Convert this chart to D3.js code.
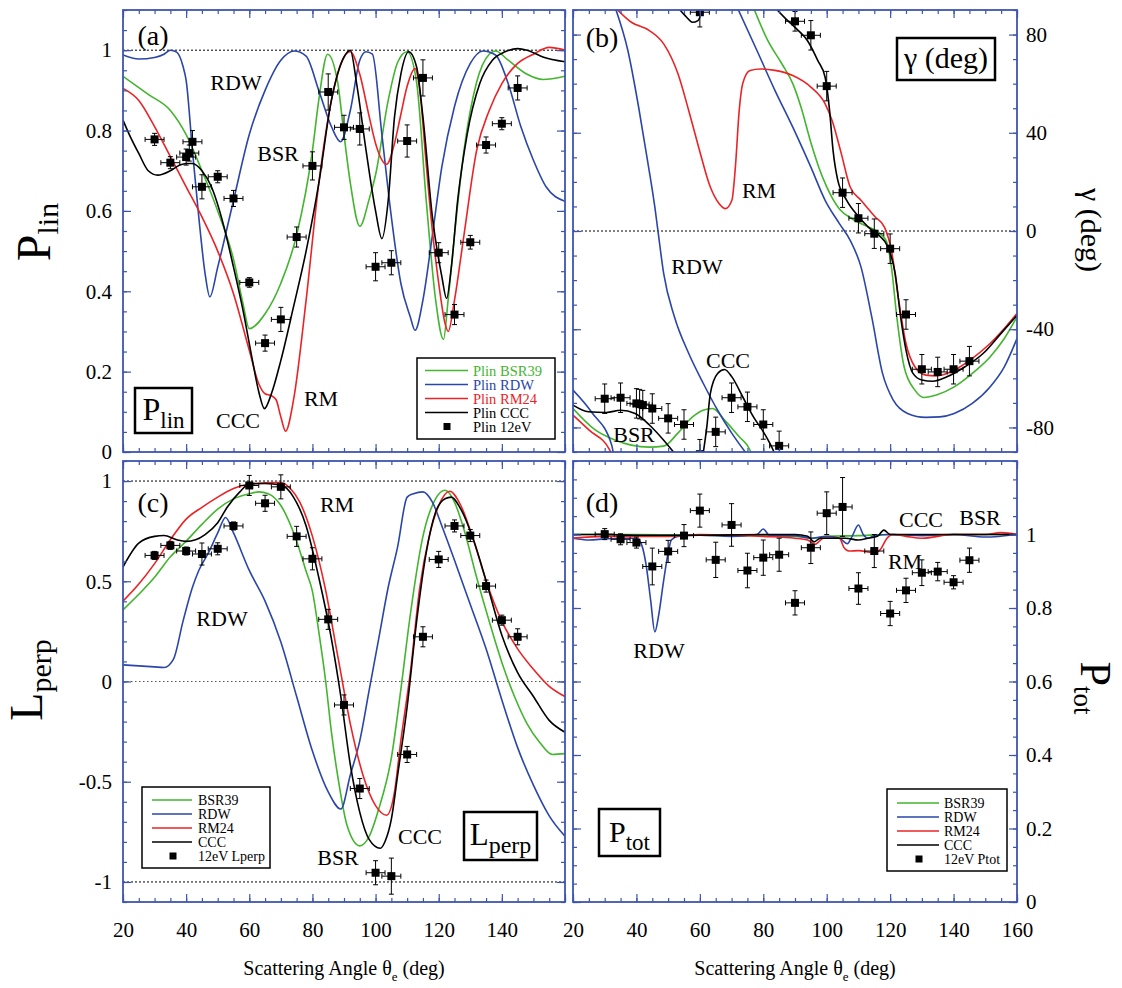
<!DOCTYPE html>
<html>
<head>
<meta charset="utf-8">
<script src="https://cdn.jsdelivr.net/npm/d3@7"></script>
<style>body{margin:0;background:#fff}</style>
</head>
<body>
<div id="chart"></div>
<script>
// ---- tick labels / series names
var angleTicks = [20, 40, 60, 80, 100, 120, 140, 160];
var plinTicks = [0, 0.2, 0.4, 0.6, 0.8, 1];
var gammaTicks = [-80, -40, 0, 40, 80];
var lperpTicks = [-1, -0.5, 0, 0.5, 1];
var ptotTicks = [0, 0.2, 0.4, 0.6, 0.8, 1];
var models = ["BSR39", "RDW", "RM24", "CCC"];
var modelColors = ["#43b52e", "#2a46a8", "#ec2326", "#000000"];

// ---- 12 eV measurements
var plinAngle = [30,35,40,41,42,45,50,55,60,65,70,75,80,85,90,95,100,105,110,115,120,125,130,135,140,145];
var plinExp = [0.778,0.720,0.734,0.744,0.772,0.660,0.685,0.631,0.422,0.271,0.330,0.535,0.712,0.896,0.808,0.804,0.461,0.471,0.774,0.931,0.496,0.342,0.522,0.764,0.817,0.906];
var plinErr = [0.015,0.015,0.02,0.02,0.028,0.03,0.015,0.02,0.012,0.02,0.03,0.025,0.035,0.045,0.03,0.04,0.035,0.03,0.04,0.045,0.025,0.025,0.017,0.02,0.015,0.03];

var gammaAngle = [30,35,40,41,42,45,50,55,60,65,70,75,80,85,90,95,100,105,110,115,120,125,130,135,140,145];
var gammaExp = [-68.3,-67.9,-70.2,-70.5,-70.9,-72.3,-76.3,-78.8,89.1,-81.8,-67.9,-71.6,-78.8,-87.5,85.4,79.7,59.0,15.6,5.2,-1.1,-7.2,-34.0,-56.3,-57.4,-56.3,-53.0];
var gammaErr = [6,6,6,6,6,6,6,6,6,6,6,6,6,6,4,6,6,6,6,6,6,6,6,6,6,6];
var gammaWrapAngle = [60];
var gammaWrapExp = [-90.9];
var gammaWrapErr = [6];

var lperpAngle = [30,35,40,45,50,55,60,65,70,75,80,85,90,95,100,105,110,115,120,125,130,135,140,145];
var lperpExp = [0.629,0.679,0.651,0.636,0.662,0.776,0.978,0.889,0.971,0.724,0.612,0.31,-0.117,-0.534,-0.954,-0.971,-0.364,0.223,0.609,0.776,0.728,0.476,0.306,0.223];
var lperpErr = [0.02,0.02,0.02,0.055,0.03,0.02,0.05,0.04,0.06,0.05,0.055,0.05,0.05,0.05,0.06,0.09,0.04,0.05,0.04,0.03,0.03,0.03,0.025,0.04];

var ptotAngle = [30,35,40,45,50,55,60,65,70,75,80,85,90,95,100,105,110,115,120,125,130,135,140,145];
var ptotExp = [1.001,0.987,0.978,0.913,0.954,0.997,1.065,0.931,1.026,0.902,0.937,0.945,0.814,0.964,1.058,1.075,0.853,0.955,0.785,0.848,0.896,0.899,0.870,0.930];
var ptotErr = [0.015,0.015,0.015,0.05,0.03,0.03,0.045,0.048,0.058,0.047,0.048,0.045,0.033,0.043,0.058,0.08,0.043,0.045,0.033,0.033,0.035,0.025,0.018,0.033];
var angleErr = 3;

// ---- theory curves [angle, value]
var plinBSR = [[20,0.935],[28,0.89],[35,0.85],[40,0.79],[45,0.70],[50,0.60],[55,0.48],[58,0.37],[60,0.307],[65,0.344],[70,0.42],[75,0.54],[80,0.75],[82,0.875],[84.8,0.99],[88,0.92],[90,0.79],[92,0.67],[95,0.562],[98,0.63],[100,0.69],[104,0.875],[107,0.97],[110,0.996],[113,0.92],[116,0.63],[119,0.38],[121.5,0.28],[123,0.38],[125,0.54],[128,0.75],[132,0.92],[136,0.99],[138,0.998],[142,0.975],[148,0.94],[153,0.927],[160,0.935]];
var plinRDW = [[20,0.988],[25,0.978],[30,0.982],[33,0.99],[35,1.0],[37,0.995],[39,0.96],[40,0.925],[42,0.75],[44,0.585],[46,0.444],[47.5,0.386],[50,0.46],[55,0.626],[60,0.79],[65,0.9],[70,0.975],[74.3,0.998],[78,0.985],[82,0.9],[86,0.81],[88.9,0.772],[92,0.85],[95,0.975],[97,0.996],[99,0.99],[102,0.79],[105,0.585],[108,0.42],[111,0.336],[112.5,0.303],[115,0.378],[118,0.54],[121,0.71],[125,0.86],[130,0.967],[134,0.998],[138,0.988],[142,0.917],[146,0.81],[150,0.726],[154,0.66],[160,0.624]];
var plinRM = [[20,0.905],[25,0.875],[30,0.81],[35,0.735],[40,0.66],[45,0.585],[50,0.50],[55,0.394],[60,0.253],[63,0.17],[65,0.145],[67,0.14],[68.5,0.13],[70,0.087],[71.5,0.052],[74,0.129],[78,0.378],[82,0.668],[86,0.875],[90,0.983],[92,0.996],[95,0.94],[98,0.834],[100,0.768],[103.5,0.716],[106,0.768],[108,0.84],[110,0.91],[112.5,0.954],[114,0.9],[116,0.72],[118,0.55],[120,0.42],[122,0.32],[123,0.30],[125,0.378],[128,0.54],[132,0.75],[136,0.85],[140,0.917],[145,0.967],[150,0.99],[155,1.007],[160,1.0]];
var plinCCC = [[20,0.826],[22,0.79],[25,0.743],[28,0.70],[31,0.689],[35,0.70],[38,0.714],[40,0.718],[42,0.718],[45,0.70],[48,0.66],[52,0.56],[55,0.46],[58,0.353],[61,0.228],[63,0.15],[64.8,0.108],[67,0.145],[70,0.228],[74,0.361],[78,0.50],[82,0.668],[86,0.875],[90,0.983],[92,1.0],[94,0.917],[97,0.75],[100,0.6],[102,0.531],[104,0.626],[106,0.834],[108,0.94],[110.5,0.996],[113,0.958],[115,0.834],[118,0.585],[121,0.436],[122.5,0.382],[124,0.46],[126,0.626],[129,0.79],[133,0.917],[137,0.975],[141,0.996],[145,1.004],[148,1.0],[153,0.983],[160,0.971]];

var gammaBSR = [[20,-72.3],[27,-81],[33,-85],[38.4,-87.2],[44,-88],[48.6,-87.6],[53,-82.4],[57.7,-75.7],[61,-73],[64,-72.3],[67.8,-77],[72.4,-83.8],[75.8,-89.2],[76.3,-91],null,[76.9,91],[81.4,77.6],[85.9,68],[89.3,60],[92,50],[95,36],[97.5,26],[100,18],[104,9],[108,5],[112,2.3],[115.3,0.3],[118.7,-3.8],[120.4,-14.6],[122.1,-35],[124.4,-55.3],[127.8,-64.8],[130.6,-67.8],[134.6,-66.8],[140.2,-63.5],[145.9,-58],[151.5,-51.3],[156,-43.8],[160,-35]];
var gammaRDW = [[20,-64.8],[26,-74],[32.2,-87.2],[32.8,-91],null,[33.3,91],[37.3,73.5],[40.7,50.4],[43.5,28.7],[45.8,9.8],[46.9,-1.1],[48.6,-17.4],[52,-35],[56.5,-49.9],[61.1,-62.1],[65.6,-73],[70.1,-82.4],[74.6,-90.5],null,[71.8,91],[78,73.5],[83.7,57.2],[89.3,42.3],[95,26],[99.5,12.5],[104,3],[107.4,-3.8],[110.8,-14.6],[114.2,-35],[117.6,-58],[121,-68.9],[125.5,-74.3],[131.2,-75.9],[135.7,-75.7],[140.2,-74.3],[145.9,-70.2],[151.5,-63.5],[156,-55.3],[160,-43.8]];
var gammaRM = [[20,-75],[25,-81],[31.6,-89.2],[32,-91],null,[33.3,91],[38.4,85],[44.1,81.6],[48.6,76.2],[53.1,64],[56.5,49],[59.9,32.8],[63.3,17.9],[66.1,11.1],[68.1,9.1],[70.1,12.5],[71.2,26],[72.4,49],[73.5,60],[75.8,65.4],[79.2,66],[83.7,65.4],[89.3,63.3],[95,58.6],[99.5,51.8],[101.7,45],[104.6,31.5],[107.4,17.9],[110.8,12.5],[115.3,5.7],[118.2,1.6],[120.4,-7.9],[122.7,-28.2],[125,-45.8],[127.8,-55.3],[131.2,-58.7],[134.6,-59],[140.2,-56.7],[145.9,-51.9],[151.5,-45.8],[156,-39.7],[160,-33.6]];
var gammaCCC = [[20,-70.9],[24.9,-73.6],[30.5,-73.9],[35,-73],[39.6,-74.3],[44.1,-79],[48.6,-85.2],[52,-90.5],null,[53.1,91],[55.5,87.5],[57.7,85],[59.4,85.7],[61,91],null,[61,-91],[62.2,-79.7],[63.3,-66.2],[65.6,-58],[67.8,-56.4],[70.1,-59.4],[73.5,-67.5],[76.9,-75.7],[80.3,-82.4],[83.1,-89.2],[83.7,-91],null,[83.7,91],[87.1,86.4],[90.5,82.3],[93.9,77.6],[97.2,69.4],[99.5,62.6],[100.9,49.1],[102,32.8],[103.5,20.6],[106.3,12.5],[109.7,6.4],[113.1,1.6],[116.5,-1.8],[119.3,-6.5],[121.6,-17.4],[123.3,-35],[125,-48.5],[127.2,-58],[130,-60.7],[133.4,-61.2],[137.9,-59.4],[143.6,-55.3],[149.3,-49.9],[154.9,-41.8],[160,-34.3]];

var lperpBSR = [[20,0.357],[25,0.435],[30,0.52],[35,0.622],[40,0.70],[45,0.784],[50,0.86],[55,0.911],[60,0.937],[63,0.946],[66,0.937],[70,0.878],[75,0.70],[78,0.55],[80,0.45],[82,0.25],[84.2,0],[86,-0.25],[88.3,-0.5],[91,-0.72],[95,-0.82],[98,-0.772],[101,-0.636],[105,-0.381],[108,-0.041],[111,0.333],[115,0.724],[119,0.911],[122,0.954],[125,0.895],[128,0.758],[132,0.52],[136,0.3],[140,0.095],[144,-0.075],[148,-0.211],[152,-0.304],[156,-0.364],[160,-0.36]];
var lperpRDW = [[20,0.083],[25,0.078],[30,0.073],[33,0.07],[36,0.112],[39,0.3],[42,0.47],[44,0.554],[47,0.64],[50,0.741],[52.5,0.818],[55,0.741],[60,0.554],[65,0.401],[70,0.197],[75,-0.075],[80,-0.347],[85,-0.551],[89,-0.636],[92,-0.466],[95,-0.296],[98,-0.041],[101,0.214],[104,0.47],[107,0.673],[110,0.92],[112,0.937],[115,0.946],[118,0.895],[121,0.776],[125,0.605],[130,0.384],[135,0.163],[140,-0.092],[145,-0.33],[150,-0.517],[155,-0.67],[160,-0.772]];
var lperpRM = [[20,0.401],[25,0.486],[30,0.588],[35,0.707],[40,0.81],[45,0.869],[50,0.92],[55,0.963],[60,0.985],[65,0.991],[70,0.993],[73,0.963],[76,0.895],[80,0.724],[84,0.469],[88,0.129],[92,-0.211],[96,-0.466],[100,-0.619],[103.5,-0.667],[106,-0.551],[108,-0.296],[111,0.044],[114,0.469],[117,0.724],[120,0.878],[123.5,0.949],[127,0.878],[131,0.707],[135,0.503],[140,0.3],[145,0.163],[150,0.061],[155,-0.024],[160,-0.075]];
var lperpCCC = [[20,0.571],[25,0.69],[30,0.724],[33,0.728],[37,0.707],[40,0.699],[43,0.707],[46,0.733],[50,0.792],[53,0.869],[57,0.946],[60,0.985],[65,0.988],[70,0.98],[74,0.92],[78,0.776],[82,0.52],[86,0.214],[89,-0.075],[92,-0.415],[95,-0.653],[98,-0.789],[101.5,-0.832],[103,-0.798],[105,-0.687],[107,-0.466],[110,-0.126],[113,0.3],[116,0.639],[119,0.844],[122,0.912],[124,0.92],[127,0.86],[131,0.707],[135,0.503],[140,0.231],[145,0.044],[150,-0.075],[155,-0.194],[160,-0.253]];

var ptotBSR = [[20,1.0],[40,1.0],[60,0.998],[80,0.997],[90,0.995],[96,0.99],[100,0.995],[110,0.997],[120,1.0],[130,0.998],[140,1.0],[160,1.0]];
var ptotRDW = [[20,0.99],[25,0.985],[30,0.988],[35,0.99],[40,0.99],[41.5,0.975],[43,0.92],[44.5,0.82],[45.8,0.735],[47,0.78],[48.5,0.87],[50,0.95],[51,0.985],[53,0.995],[60,0.998],[70,0.995],[78,1.0],[80,1.015],[82,0.997],[90,0.997],[95,0.99],[100,0.995],[104,0.99],[106.5,0.975],[108,0.995],[110,1.026],[111.5,1.0],[113,0.99],[115,0.997],[120,1.0],[130,0.997],[140,1.0],[150,0.993],[160,1.0]];
var ptotRM = [[20,0.99],[30,0.995],[50,0.995],[60,1.0],[80,0.995],[90,0.99],[94,0.985],[96.3,0.973],[99,0.99],[104,0.99],[105.4,0.965],[107,0.955],[110,0.956],[115,0.95],[117,0.96],[119,0.99],[121,1.0],[125,0.995],[130,0.99],[140,1.0],[150,1.0],[155,1.005],[160,1.0]];
var ptotCCC = [[20,1.0],[30,1.0],[40,0.998],[60,0.998],[80,1.0],[90,1.0],[94,0.995],[96,0.98],[98,0.99],[100,0.99],[103,0.99],[106,0.99],[110,0.985],[113,0.99],[116,0.995],[118,1.012],[120,1.0],[130,1.0],[140,1.0],[160,1.0]];

// ---- drawing
var SERIF = "'Liberation Serif', 'Times New Roman', serif";
var FRAME = "#3e55b0";

var svg = d3.select("#chart").append("svg")
    .attr("width", 1122)
    .attr("height", 988)
    .style("background", "#fff");

function makePanel(id, box, ydom, yMajor, yMinor, side, xLabels) {
    var x = d3.scaleLinear().domain([20, 160]).range([box[0], box[1]]);
    var y = d3.scaleLinear().domain(ydom).range([box[3], box[2]]);
    var g = svg.append("g");
    svg.append("clipPath").attr("id", "clip" + id)
        .append("rect")
        .attr("x", box[0]).attr("y", box[2])
        .attr("width", box[1] - box[0]).attr("height", box[3] - box[2]);
    var inner = g.append("g").attr("clip-path", "url(#clip" + id + ")");

    var xMinor = d3.range(20, 161, 5);
    function styleAxis(s) {
        s.select(".domain").remove();
        s.selectAll("line").attr("stroke", FRAME).attr("stroke-width", 1.2);
        s.selectAll("text").attr("font-family", SERIF).attr("font-size", 21).attr("fill", "#000");
    }
    var lab = function (d) { return String(d); };
    var none = function () { return ""; };

    g.append("g").attr("transform", "translate(" + box[0] + ",0)")
        .call(d3.axisLeft(y).tickValues(yMajor).tickSize(-8).tickPadding(11).tickFormat(side == "left" ? lab : none)).call(styleAxis);
    g.append("g").attr("transform", "translate(" + box[0] + ",0)")
        .call(d3.axisLeft(y).tickValues(yMinor).tickSize(-4).tickFormat(none)).call(styleAxis);
    g.append("g").attr("transform", "translate(" + box[1] + ",0)")
        .call(d3.axisRight(y).tickValues(yMajor).tickSize(-8).tickPadding(9).tickFormat(side == "right" ? lab : none)).call(styleAxis);
    g.append("g").attr("transform", "translate(" + box[1] + ",0)")
        .call(d3.axisRight(y).tickValues(yMinor).tickSize(-4).tickFormat(none)).call(styleAxis);
    g.append("g").attr("transform", "translate(0," + box[2] + ")")
        .call(d3.axisTop(x).tickValues(angleTicks).tickSize(-8).tickFormat(none)).call(styleAxis);
    g.append("g").attr("transform", "translate(0," + box[2] + ")")
        .call(d3.axisTop(x).tickValues(xMinor).tickSize(-4).tickFormat(none)).call(styleAxis);
    g.append("g").attr("transform", "translate(0," + box[3] + ")")
        .call(d3.axisBottom(x).tickValues(angleTicks).tickSize(-8).tickPadding(20)
            .tickFormat(function (d) { return xLabels.indexOf(d) >= 0 ? String(d) : ""; })).call(styleAxis);
    g.append("g").attr("transform", "translate(0," + box[3] + ")")
        .call(d3.axisBottom(x).tickValues(xMinor).tickSize(-4).tickFormat(none)).call(styleAxis);

    g.append("rect")
        .attr("x", box[0]).attr("y", box[2])
        .attr("width", box[1] - box[0]).attr("height", box[3] - box[2])
        .attr("fill", "none").attr("stroke", FRAME).attr("stroke-width", 1.8);

    return { x: x, y: y, g: g, inner: inner, box: box };
}

function refLine(p, v, dash, col, w) {
    p.inner.append("line")
        .attr("x1", p.box[0]).attr("x2", p.box[1])
        .attr("y1", p.y(v)).attr("y2", p.y(v))
        .attr("stroke", col).attr("stroke-width", w)
        .attr("stroke-dasharray", dash);
}

function curves(p, series) {
    var line = d3.line()
        .defined(function (d) { return d != null; })
        .x(function (d) { return p.x(d[0]); })
        .y(function (d) { return p.y(d[1]); })
        .curve(d3.curveMonotoneX);
    series.forEach(function (s, i) {
        p.inner.append("path")
            .attr("d", line(s))
            .attr("fill", "none")
            .attr("stroke", modelColors[i])
            .attr("stroke-width", 1.6);
    });
}

function points(p, ang, val, err) {
    var pts = p.inner.append("g");
    ang.forEach(function (a, i) {
        var cx = p.x(a), cy = p.y(val[i]);
        var yt = p.y(val[i] + err[i]), yb = p.y(val[i] - err[i]);
        var xl = p.x(a - angleErr), xr = p.x(a + angleErr);
        var e = pts.append("g").attr("stroke", "#000").attr("stroke-width", 1);
        e.append("line").attr("x1", cx).attr("x2", cx).attr("y1", yt).attr("y2", yb);
        e.append("line").attr("x1", cx - 2.5).attr("x2", cx + 2.5).attr("y1", yt).attr("y2", yt);
        e.append("line").attr("x1", cx - 2.5).attr("x2", cx + 2.5).attr("y1", yb).attr("y2", yb);
        e.append("line").attr("x1", xl).attr("x2", xr).attr("y1", cy).attr("y2", cy);
        e.append("line").attr("x1", xl).attr("x2", xl).attr("y1", cy - 2.5).attr("y2", cy + 2.5);
        e.append("line").attr("x1", xr).attr("x2", xr).attr("y1", cy - 2.5).attr("y2", cy + 2.5);
        pts.append("rect").attr("x", cx - 4).attr("y", cy - 4).attr("width", 8).attr("height", 8).attr("fill", "#000");
    });
}

function note(txt, x, y, size) {
    svg.append("text").attr("x", x).attr("y", y).attr("dy", "0.35em")
        .attr("text-anchor", "middle")
        .attr("font-family", SERIF).attr("font-size", size || 22)
        .text(txt);
}

function boxLabel(x0, y0, x1, y1, main, sub, ms, ss, sdy) {
    svg.append("rect").attr("x", x0).attr("y", y0).attr("width", x1 - x0).attr("height", y1 - y0)
        .attr("fill", "#fff").attr("stroke", "#000").attr("stroke-width", 2.5);
    var t = svg.append("text").attr("x", (x0 + x1) / 2).attr("y", (y0 + y1) / 2 + ms * 0.3)
        .attr("text-anchor", "middle").attr("font-family", SERIF);
    t.append("tspan").attr("font-size", ms).text(main);
    if (sub) t.append("tspan").attr("font-size", ss).attr("dy", sdy).text(sub);
}

function legend(x0, y0, x1, y1, rows, lx1, lx2, tx, mx, labels, colored, fs) {
    svg.append("rect").attr("x", x0).attr("y", y0).attr("width", x1 - x0).attr("height", y1 - y0)
        .attr("fill", "#fff").attr("stroke", "#000").attr("stroke-width", 1.5);
    labels.forEach(function (l, i) {
        var col = i < 4 ? modelColors[i] : "#000";
        if (i < 4) {
            svg.append("line").attr("x1", lx1).attr("x2", lx2).attr("y1", rows[i]).attr("y2", rows[i])
                .attr("stroke", col).attr("stroke-width", 1.5);
        } else {
            svg.append("rect").attr("x", mx - 3.5).attr("y", rows[i] - 3.5).attr("width", 7).attr("height", 7).attr("fill", "#000");
        }
        svg.append("text").attr("x", tx).attr("y", rows[i]).attr("dy", "0.35em")
            .attr("font-family", SERIF).attr("font-size", fs)
            .attr("fill", colored ? col : "#000").text(l);
    });
}

function rotLabel(x, y, angle, main, sub, ms, ss, sdy) {
    var t = svg.append("text").attr("transform", "translate(" + x + "," + y + ") rotate(" + angle + ")")
        .attr("text-anchor", "middle").attr("font-family", SERIF);
    t.append("tspan").attr("font-size", ms).text(main);
    if (sub) t.append("tspan").attr("font-size", ss).attr("dy", sdy).text(sub);
}

function xTitle(cx) {
    var t = svg.append("text").attr("x", cx).attr("y", 975)
        .attr("text-anchor", "middle").attr("font-family", SERIF).attr("font-size", 20);
    t.append("tspan").text("Scattering Angle \u03b8");
    t.append("tspan").attr("font-size", 13).attr("dy", 6).text("e");
    t.append("tspan").attr("dy", -6).text(" (deg)");
}

// panel (a)
var pa = makePanel("a", [123, 565, 10, 452], [0, 1.1], plinTicks, d3.range(0, 1.101, 0.05), "left", []);
refLine(pa, 1, "2,2", "#000", 1);
curves(pa, [plinBSR, plinRDW, plinRM, plinCCC]);
points(pa, plinAngle, plinExp, plinErr);

// panel (b)
var pb = makePanel("b", [573, 1017, 10, 452], [-90, 90], gammaTicks, d3.range(-90, 91, 10), "right", []);
refLine(pb, 0, "2,2", "#000", 1);
curves(pb, [gammaBSR, gammaRDW, gammaRM, gammaCCC]);
points(pb, gammaAngle, gammaExp, gammaErr);
points(pb, gammaWrapAngle, gammaWrapExp, gammaWrapErr);

// panel (c)
var pc = makePanel("c", [123, 565, 461, 902], [-1.1, 1.1], lperpTicks, d3.range(-1.1, 1.101, 0.1), "left", [20, 40, 60, 80, 100, 120, 140]);
refLine(pc, 1, "2,2", "#000", 1);
refLine(pc, -1, "2,2", "#000", 1);
refLine(pc, 0, "1.5,2.5", "#555", 1);
curves(pc, [lperpBSR, lperpRDW, lperpRM, lperpCCC]);
points(pc, lperpAngle, lperpExp, lperpErr);

// panel (d)
var pd = makePanel("d", [573, 1017, 461, 902], [0, 1.2], ptotTicks, d3.range(0, 1.201, 0.05), "right", angleTicks);
curves(pd, [ptotBSR, ptotRDW, ptotRM, ptotCCC]);
points(pd, ptotAngle, ptotExp, ptotErr);

// annotations
note("(a)", 153, 35, 28);
note("RDW", 236, 82);
note("BSR", 278, 153);
note("RM", 321, 398);
note("CCC", 238, 420);
note("(b)", 602, 37, 28);
note("RM", 759, 190);
note("RDW", 697, 266);
note("CCC", 728, 360);
note("BSR", 634, 434);
note("(c)", 153, 502, 28);
note("RM", 337, 504);
note("RDW", 222, 618);
note("BSR", 338, 857);
note("CCC", 420, 836);
note("(d)", 602, 502, 28);
note("CCC", 921, 519);
note("BSR", 980, 517);
note("RM", 905, 561);
note("RDW", 659, 650);

boxLabel(135, 388, 192, 433, "P", "lin", 32, 23, 8);
boxLabel(897, 38, 995, 80, "\u03b3 (deg)", null, 30);
boxLabel(464, 812, 537, 860, "L", "perp", 31, 24, 8);
boxLabel(599, 809, 660, 856, "P", "tot", 30, 23, 8);

legend(417, 358, 555, 439, [370.5, 384.5, 398.5, 412.5, 426.5], 425, 468, 473, 447,
    ["Plin BSR39", "Plin RDW", "Plin RM24", "Plin CCC", "Plin 12eV"], true, 14.5);
legend(142, 787, 270, 868, [800, 814, 828, 842, 856], 152, 192, 198, 173,
    ["BSR39", "RDW", "RM24", "CCC", "12eV Lperp"], false, 14);
legend(887, 789, 1007, 871, [803, 817, 831, 845, 859], 897, 939, 944, 919,
    ["BSR39", "RDW", "RM24", "CCC", "12eV Ptot"], false, 14);

rotLabel(50, 232, -90, "P", "lin", 48, 30, 8);
rotLabel(42, 680, -90, "L", "perp", 46, 30, 9);
rotLabel(1081, 688, 90, "P", "tot", 44, 27, 7);
rotLabel(1081, 230, 90, "\u03b3 (deg)", null, 30);

xTitle(344);
xTitle(795);
</script>
</body>
</html>
